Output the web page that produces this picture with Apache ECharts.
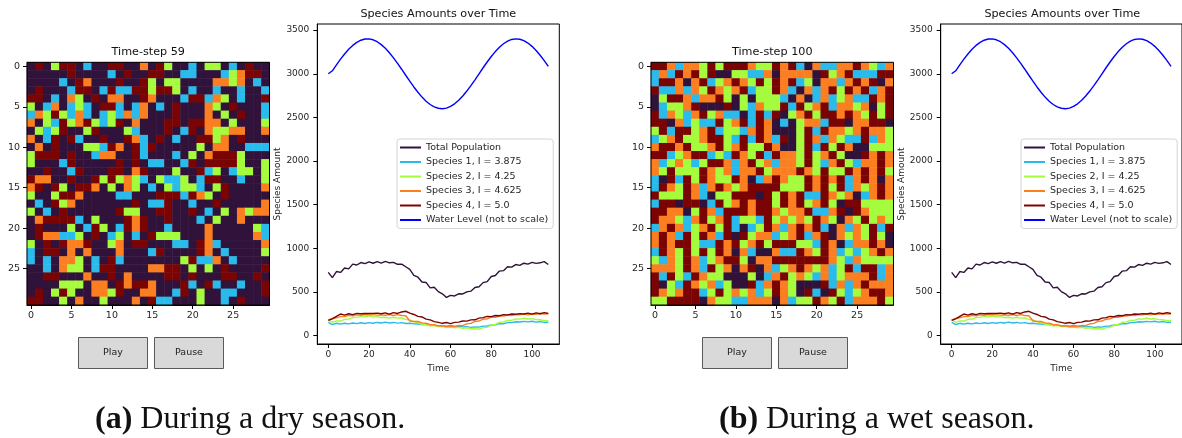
<!DOCTYPE html>
<html>
<head>
<meta charset="utf-8">
<script src="https://cdn.jsdelivr.net/npm/echarts@6/dist/echarts.min.js"></script>
<style>
  html, body { margin: 0; padding: 0; background: #ffffff; }
  #chart { width: 1182px; height: 438px; }
</style>
</head>
<body>
<div id="chart"></div>
<script>
// Cell states: 0 = empty ground, 1..4 = species 1..4 (turbo colormap, 5 levels)
const cellColors = ['#30123b', '#28bbec', '#a4fc3c', '#fb7e21', '#7a0403'];

// Lattice at time-step 59 (dry season), one string per row, one digit per cell
const gridDry = [
  '040244010044003042001022010400',
  '000004000010400440011000123440',
  '000010430004004202200003323010',
  '040001440141144244201001001001',
  '440103204033004300014413201004',
  '201301210441013010400032040001',
  '132421310121313000400030204001',
  '302142342124030004404433020002',
  '021240024000210004014032233003',
  '301404100400431040100442304000',
  '030400022143041400000203300111',
  '244404001330041000102034442000',
  '200014000004040110014044442002',
  '004001400044034000200412012202',
  '433004004242321021120144001002',
  '340420443020320102122102400003',
  '200244300001100044414320400000',
  '010423000000040114001004000003',
  '201040000004220044004010203233',
  '034444102000434004000102003000',
  '040002014201434001000030000021',
  '043311204012010422200030000031',
  '204043340023044000110431000003',
  '104403030003000140000430100002',
  '101033201041000000024113010000',
  '001032201440000334402020400004',
  '004400030040300004404000440040',
  '000022203304344300041041001004',
  '040242003324003300140200110004',
  '440020300200030411000200104000'
];

// Lattice at time-step 100 (wet season)
const gridWet = [
  '443133242444322434103113343213',
  '131434240022113033330423411144',
  '144303412343242434120331343403',
  '411313243234122431031342434134',
  '024431334202022210301312311434',
  '012234000402132241423413323024',
  '413213423110141402342443432424',
  '440312114234143010233144033440',
  '241442341221343000241433234332',
  '123422344214143140243132114132',
  '344342234234224300241424300222',
  '441234412143241433242342004343',
  '312321244313423133242134213343',
  '324222432313342333432422434342',
  '104142432243013432243434134303',
  '143243134323444422243424132343',
  '422243102244404243411432301343',
  '144044014234344243423420442222',
  '443302431444344323341134043222',
  '433213423412214232324320324232',
  '134312342410124313434103132414',
  '343142431404233123413403232420',
  '343442114342342444221430133430',
  '143242424303100311432431212343',
  '213243123442033444444432132222',
  '333243142303403123432312414413',
  '414214322000201342321312333413',
  '402143231200413432000413134333',
  '432344124232312432041042123443',
  '224444032211333031224324133342'
];

// Population record, sampled every second time step
const time = [0, 2, 4, 6, 8, 10, 12, 14, 16, 18, 20, 22, 24, 26, 28, 30, 32, 34, 36, 38,
  40, 42, 44, 46, 48, 50, 52, 54, 56, 58, 60, 62, 64, 66, 68, 70, 72, 74, 76, 78,
  80, 82, 84, 86, 88, 90, 92, 94, 96, 98, 100, 102, 104, 106, 108];

const totalPopulation = [725, 665, 735, 725, 775, 765, 820, 810, 838, 825, 845, 830, 848, 832, 852, 835, 840, 818, 820, 790,
  760, 690, 670, 615, 610, 548, 555, 505, 480, 438, 462, 455, 480, 478, 502, 510, 552, 560, 608, 620,
  678, 690, 740, 745, 790, 785, 815, 805, 830, 820, 840, 828, 835, 848, 815];

const species1 = [152, 128, 142, 132, 143, 135, 145, 138, 148, 140, 150, 143, 152, 146, 155, 145, 152, 144, 150, 140,
  142, 135, 134, 127, 128, 117, 121, 112, 118, 108, 117, 106, 110, 101, 104, 96, 100, 98, 110, 112,
  123, 125, 138, 137, 150, 150, 160, 157, 164, 158, 165, 155, 162, 152, 154];

const species2 = [178, 155, 168, 168, 188, 190, 208, 210, 222, 216, 227, 214, 218, 208, 211, 202, 211, 201, 203, 186,
  181, 160, 151, 130, 128, 113, 115, 104, 108, 96, 101, 91, 95, 86, 91, 80, 83, 74, 92, 96,
  122, 130, 154, 158, 176, 176, 193, 190, 201, 191, 195, 184, 183, 171, 172];

const species3 = [182, 198, 205, 218, 219, 233, 229, 238, 235, 243, 239, 241, 236, 238, 234, 243, 232, 241, 231, 228,
  168, 162, 163, 146, 143, 126, 125, 111, 113, 104, 109, 106, 118, 116, 136, 141, 164, 168, 189, 194,
  212, 211, 226, 224, 236, 231, 242, 238, 249, 238, 249, 244, 254, 248, 252];

const species4 = [176, 192, 222, 248, 236, 251, 241, 256, 251, 254, 255, 256, 259, 251, 262, 247, 265, 255, 272, 280,
  258, 243, 221, 215, 190, 181, 161, 153, 142, 151, 139, 153, 155, 168, 167, 181, 182, 201, 207, 221,
  219, 231, 229, 241, 239, 248, 245, 253, 249, 258, 247, 261, 252, 265, 255];

const waterLevel = [3000, 3034, 3102, 3167, 3227, 3280, 3325, 3360, 3384, 3398, 3399, 3389, 3367, 3334, 3292, 3241, 3182, 3119, 3052, 2983,
  2915, 2849, 2788, 2733, 2686, 2648, 2621, 2605, 2600, 2607, 2626, 2656, 2697, 2746, 2802, 2865, 2931, 3000, 3069, 3135,
  3198, 3254, 3303, 3344, 3374, 3393, 3400, 3395, 3379, 3352, 3314, 3267, 3212, 3151, 3085];

const lineNames = ['Total Population', 'Species 1, I = 3.875', 'Species 2, I = 4.25',
  'Species 3, I = 4.625', 'Species 4, I = 5.0', 'Water Level (not to scale)'];
const lineValues = [totalPopulation, species1, species2, species3, species4, waterLevel];
const lineColors = ['#30123b', '#28bbec', '#a4fc3c', '#fb7e21', '#7a0403', '#0000ff'];

const yTicks = [0, 500, 1000, 1500, 2000, 2500, 3000, 3500];
const xTicks = [0, 20, 40, 60, 80, 100];

const panels = [
  { grid: gridDry, step: 'Time-step 59', tag: '(a)', caption: ' During a dry season.' },
  { grid: gridWet, step: 'Time-step 100', tag: '(b)', caption: ' During a wet season.' }
];

// ---- layout ----
const PANEL_DX = 624;
const HEAT = { left: 27, top: 62.3, width: 242.5, height: 242.7 };
const PLOT = { left: 317.3, top: 24, width: 242, height: 320 };
const SANS = '"DejaVu Sans", sans-serif';
const SERIF = '"Liberation Serif", "DejaVu Serif", serif';
const INK = '#262626';

const cellIndex = Array.from({ length: 30 }, (_, i) => String(i));

function heatData(rows) {
  const out = [];
  rows.forEach((row, r) => {
    for (let c = 0; c < row.length; c++) out.push([c, r, Number(row[c])]);
  });
  return out;
}

const isTick = (idx) => idx % 5 === 0;
const plain = (v) => String(v);

const grids = [], xAxes = [], yAxes = [], series = [], legends = [], graphics = [];
const heatSeries = [];

panels.forEach((p, k) => {
  const dx = k * PANEL_DX;
  const heatIdx = grids.length;
  grids.push({ left: HEAT.left + dx, top: HEAT.top, width: HEAT.width, height: HEAT.height });
  const plotIdx = grids.length;
  grids.push({
    left: PLOT.left + dx - (k ? 0.6 : 0), top: PLOT.top, width: PLOT.width, height: PLOT.height,
    show: true, borderColor: '#000', borderWidth: 1, backgroundColor: 'transparent'
  });

  // lattice axes
  xAxes.push({
    gridIndex: heatIdx, type: 'category', data: cellIndex, position: 'bottom',
    axisLine: { show: true, lineStyle: { color: '#000', width: 1 } },
    axisTick: { show: true, alignWithLabel: true, interval: isTick, length: 4, lineStyle: { color: '#000' } },
    axisLabel: { interval: isTick, margin: 6, color: INK, fontSize: 9.5, fontFamily: SANS },
    splitLine: { show: false }
  });
  yAxes.push({
    gridIndex: heatIdx, type: 'category', data: cellIndex, inverse: true,
    axisLine: { show: true, lineStyle: { color: '#000', width: 1 } },
    axisTick: { show: true, alignWithLabel: true, interval: isTick, length: 4, lineStyle: { color: '#000' } },
    axisLabel: { interval: isTick, margin: 7, color: INK, fontSize: 9.5, fontFamily: SANS },
    splitLine: { show: false }
  });

  // time-series axes
  xAxes.push({
    gridIndex: plotIdx, type: 'value', min: -5.4, max: 113.4,
    name: 'Time', nameLocation: 'middle', nameGap: 18,
    nameTextStyle: { color: INK, fontSize: 9, fontFamily: SANS },
    axisLine: { show: true, onZero: false, lineStyle: { color: '#000', width: 1 } },
    axisTick: { show: true, length: 4, customValues: xTicks, lineStyle: { color: '#000' } },
    axisLabel: { customValues: xTicks, formatter: plain, margin: 6, color: INK, fontSize: 9, fontFamily: SANS },
    splitLine: { show: false }
  });
  yAxes.push({
    gridIndex: plotIdx, type: 'value', min: -95, max: 3570,
    name: 'Species Amount', nameLocation: 'middle', nameGap: 34,
    nameTextStyle: { color: INK, fontSize: 9, fontFamily: SANS },
    axisLine: { show: true, onZero: false, lineStyle: { color: '#000', width: 1 } },
    axisTick: { show: true, length: 4, customValues: yTicks, lineStyle: { color: '#000' } },
    axisLabel: { customValues: yTicks, formatter: plain, margin: 8, color: INK, fontSize: 9, fontFamily: SANS },
    splitLine: { show: false }
  });

  heatSeries.push(series.length);
  series.push({
    type: 'heatmap', xAxisIndex: heatIdx, yAxisIndex: heatIdx,
    data: heatData(p.grid), itemStyle: { borderWidth: 0 },
    emphasis: { disabled: true }, progressive: 0
  });

  // plot frame over the lattice
  graphics.push({
    type: 'rect', silent: true, z: 100,
    shape: { x: HEAT.left + dx, y: HEAT.top, width: HEAT.width, height: HEAT.height },
    style: { fill: 'none', stroke: '#000', lineWidth: 1 }
  });

  // titles
  graphics.push({
    type: 'text', silent: true, z: 100,
    style: { text: p.step, x: HEAT.left + dx + HEAT.width / 2, y: 52.5, align: 'center', verticalAlign: 'middle',
      fontSize: 11.2, fontFamily: SANS, fill: '#111' }
  });
  graphics.push({
    type: 'text', silent: true, z: 100,
    style: { text: 'Species Amounts over Time', x: PLOT.left + dx + 121, y: 14.3, align: 'center', verticalAlign: 'middle',
      fontSize: 11.2, fontFamily: SANS, fill: '#111' }
  });

  // Play / Pause buttons
  [['Play', 78.5], ['Pause', 154.5]].forEach(([label, bx]) => {
    graphics.push({
      type: 'rect', silent: true, z: 100,
      shape: { x: bx + dx, y: 337.5, width: 69, height: 31 },
      style: { fill: '#d9d9d9', stroke: '#5a5a5a', lineWidth: 1 }
    });
    graphics.push({
      type: 'text', silent: true, z: 101,
      style: { text: label, x: bx + dx + 34.5, y: 352.5, align: 'center', verticalAlign: 'middle',
        fontSize: 9.5, fontFamily: SANS, fill: '#222' }
    });
  });

  // sub-figure caption
  graphics.push({
    type: 'text', silent: true, z: 100,
    style: {
      text: '{b|' + p.tag + '}{r|' + p.caption + '}', x: 95 + dx, y: 420, align: 'left', verticalAlign: 'middle',
      rich: {
        b: { fontSize: 32, fontWeight: 'bold', fontFamily: SERIF, fill: '#111' },
        r: { fontSize: 32, fontFamily: SERIF, fill: '#111' }
      }
    }
  });

  lineNames.forEach((name, i) => {
    series.push({
      type: 'line', name, xAxisIndex: plotIdx, yAxisIndex: plotIdx,
      data: time.map((t, j) => [t, lineValues[i][j]]),
      symbol: 'none', showSymbol: false, smooth: false,
      lineStyle: { color: lineColors[i], width: 1.4 },
      itemStyle: { color: lineColors[i] },
      emphasis: { disabled: true }
    });
  });

  legends.push({
    data: lineNames, orient: 'vertical', left: 397 + dx, top: 139,
    icon: 'rect', itemWidth: 21, itemHeight: 2, itemGap: 3.5,
    padding: [3, 5, 3, 3], selectedMode: false,
    backgroundColor: '#fff', borderColor: '#d4d4d4', borderWidth: 1, borderRadius: 3,
    textStyle: { color: INK, fontSize: 9.5, fontFamily: SANS, lineHeight: 11 }
  });
});

const chart = echarts.init(document.getElementById('chart'), null, { renderer: 'canvas' });
chart.setOption({
  animation: false,
  backgroundColor: '#ffffff',
  grid: grids,
  xAxis: xAxes,
  yAxis: yAxes,
  visualMap: {
    type: 'piecewise', show: false, dimension: 2, seriesIndex: heatSeries,
    pieces: cellColors.map((color, v) => ({ value: v, color }))
  },
  legend: legends,
  series,
  graphic: graphics
});
</script>
</body>
</html>
